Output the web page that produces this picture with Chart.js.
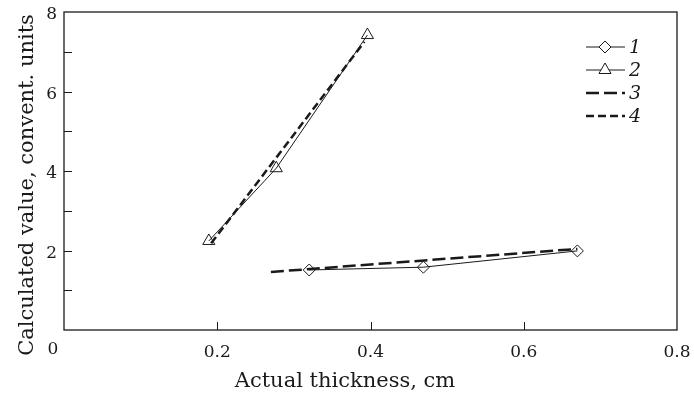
<!DOCTYPE html>
<html>
<head>
<meta charset="utf-8">
<script src="https://cdn.jsdelivr.net/npm/chart.js@4.4.1/dist/chart.umd.min.js"></script>
<style>
  html, body { margin: 0; padding: 0; background: #fff; }
  #wrap { width: 694px; height: 397px; }
</style>
</head>
<body>
<div id="wrap"><canvas id="chart" width="694" height="397"></canvas></div>
<script>
// axis text
const xTitle = 'Actual thickness, cm';
const yTitle = 'Calculated value, convent. units';
const xTickLabels = [0.2, 0.4, 0.6, 0.8];
const yTickLabels = [2, 4, 6, 8];
const legendLabels = ['1', '2', '3', '4'];

// series
const s1x = [0.320, 0.469, 0.670];
const s1y = [1.51, 1.58, 1.99];
const s2x = [0.189, 0.277, 0.396];
const s2y = [2.24, 4.07, 7.42];
const s3x = [0.270, 0.670];
const s3y = [1.46, 2.04];
const s4x = [0.192, 0.392];
const s4y = [2.18, 7.25];

const INK = '#1a1a1a';
const SERIF = '"DejaVu Serif", "Liberation Serif", serif';

function pts(xs, ys) {
    return xs.map((x, i) => ({ x: x, y: ys[i] }));
}

// frame, inward ticks, titles, legend
const decor = {
    id: 'decor',
    afterDraw(chart) {
        const ctx = chart.ctx;
        const a = chart.chartArea;
        const xs = chart.scales.x;
        const ys = chart.scales.y;
        ctx.save();
        ctx.strokeStyle = INK;
        ctx.lineWidth = 1.3;
        ctx.strokeRect(a.left, a.top, a.right - a.left, a.bottom - a.top);

        ctx.lineWidth = 1;
        ctx.beginPath();
        xs.ticks.forEach(t => {
            if (t.value <= 0 || t.value >= 0.8) return;
            const px = Math.round(xs.getPixelForValue(t.value)) + 0.5;
            ctx.moveTo(px, a.bottom);
            ctx.lineTo(px, a.bottom - 8);
        });
        ys.ticks.forEach(t => {
            if (t.value <= 0 || t.value >= 8) return;
            const py = Math.round(ys.getPixelForValue(t.value)) + 0.5;
            ctx.moveTo(a.left, py);
            ctx.lineTo(a.left + 8, py);
        });
        ctx.stroke();

        ctx.fillStyle = INK;
        ctx.font = '17px ' + SERIF;
        ctx.textAlign = 'center';
        ctx.textBaseline = 'middle';
        ctx.fillText('0', a.left - 11, a.bottom + 20);

        ctx.font = '21px ' + SERIF;
        ctx.textBaseline = 'alphabetic';
        ctx.fillText(xTitle, 345, 387);

        ctx.save();
        ctx.translate(33, 185);
        ctx.rotate(-Math.PI / 2);
        ctx.fillText(yTitle, 0, 0);
        ctx.restore();

        // legend
        chart.data.datasets.forEach((ds, i) => {
            const y = 47 + i * 23;
            ctx.save();
            ctx.strokeStyle = INK;
            ctx.lineWidth = ds.borderWidth;
            ctx.setLineDash(ds.borderDash || []);
            ctx.beginPath();
            ctx.moveTo(586, y);
            ctx.lineTo(625, y);
            ctx.stroke();
            ctx.setLineDash([]);
            ctx.lineWidth = 1;
            if (ds.pointStyle === 'rectRot') {
                ctx.beginPath();
                ctx.moveTo(605, y - 6);
                ctx.lineTo(611, y);
                ctx.lineTo(605, y + 6);
                ctx.lineTo(599, y);
                ctx.closePath();
                ctx.fillStyle = '#fff';
                ctx.fill();
                ctx.stroke();
            } else if (ds.pointStyle === 'triangle') {
                const r = 7;
                ctx.beginPath();
                ctx.moveTo(605, y - r);
                ctx.lineTo(605 + r * 0.866, y + r / 2);
                ctx.lineTo(605 - r * 0.866, y + r / 2);
                ctx.closePath();
                ctx.fillStyle = '#fff';
                ctx.fill();
                ctx.stroke();
            }
            ctx.restore();
            ctx.fillStyle = INK;
            ctx.font = 'italic 19px ' + SERIF;
            ctx.textAlign = 'left';
            ctx.textBaseline = 'middle';
            ctx.fillText(legendLabels[i], 629, y + 1);
        });
        ctx.restore();
    }
};

const chart = new Chart(document.getElementById('chart').getContext('2d'), {
    type: 'scatter',
    data: {
        datasets: [
            {
                data: pts(s1x, s1y), showLine: true,
                borderColor: INK, borderWidth: 1,
                pointStyle: 'rectRot', pointRadius: 6,
                pointBackgroundColor: 'rgba(0,0,0,0)', pointBorderColor: INK, pointBorderWidth: 1
            },
            {
                data: pts(s2x, s2y), showLine: true,
                borderColor: INK, borderWidth: 1,
                pointStyle: 'triangle', pointRadius: 7,
                pointBackgroundColor: 'rgba(0,0,0,0)', pointBorderColor: INK, pointBorderWidth: 1
            },
            {
                data: pts(s3x, s3y), showLine: true,
                borderColor: INK, borderWidth: 2.5, borderDash: [13, 5],
                pointRadius: 0
            },
            {
                data: pts(s4x, s4y), showLine: true,
                borderColor: INK, borderWidth: 2.5, borderDash: [8, 4],
                pointRadius: 0
            }
        ]
    },
    options: {
        responsive: false,
        animation: false,
        events: [],
        layout: { padding: { left: 0, right: 17, top: 12, bottom: 0 } },
        plugins: { legend: { display: false }, tooltip: { enabled: false } },
        scales: {
            x: {
                type: 'linear', min: 0, max: 0.8,
                afterFit: s => { s.height = 67; s.paddingLeft = 0; s.paddingRight = 0; },
                grid: { display: false, drawTicks: false },
                border: { display: false },
                ticks: {
                    stepSize: 0.2, padding: 12, maxRotation: 0,
                    color: INK, font: { family: SERIF, size: 17 },
                    callback: v => {
                        const hit = xTickLabels.find(t => Math.abs(t - v) < 1e-6);
                        return hit === undefined ? '' : hit.toFixed(1);
                    }
                }
            },
            y: {
                type: 'linear', min: 0, max: 8,
                afterFit: s => { s.width = 64; s.paddingTop = 0; s.paddingBottom = 0; },
                grid: { display: false, drawTicks: false },
                border: { display: false },
                ticks: {
                    stepSize: 1, padding: 7, labelOffset: 3,
                    color: INK, font: { family: SERIF, size: 17 },
                    callback: v => yTickLabels.includes(v) ? String(v) : ''
                }
            }
        }
    },
    plugins: [decor]
});
</script>
</body>
</html>
